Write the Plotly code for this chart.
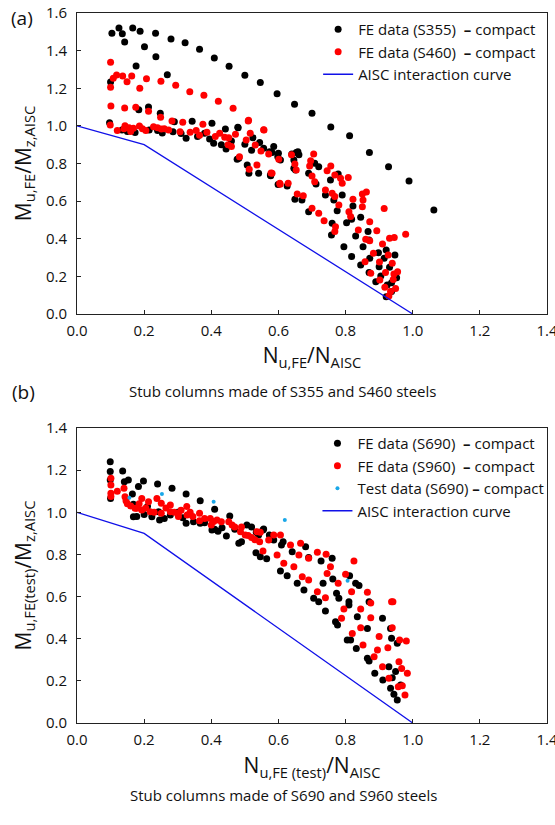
import plotly.graph_objects as go

# ---------------- (a) S355 / S460 stub columns ----------------
n_s355 = [0.104, 0.125, 0.135, 0.142, 0.166, 0.188, 0.201, 0.234, 0.235, 0.280, 0.322, 0.365,
          0.409, 0.453, 0.500, 0.546, 0.596, 0.648, 0.700, 0.756, 0.812, 0.871, 0.928, 0.989, 1.063,
          0.176, 0.269, 0.100, 0.213, 0.184, 0.248, 0.480,
          0.097, 0.134, 0.163, 0.173, 0.215, 0.254, 0.290, 0.286, 0.325, 0.343, 0.359, 0.380,
          0.402, 0.407, 0.444, 0.479, 0.500, 0.524, 0.544, 0.556, 0.482, 0.574, 0.442, 0.477,
          0.507, 0.512, 0.577, 0.599, 0.541, 0.586, 0.598, 0.606, 0.646, 0.658, 0.651,
          0.576, 0.626, 0.649, 0.670, 0.690, 0.653, 0.646, 0.708, 0.720, 0.712, 0.740, 0.755,
          0.765, 0.775, 0.778, 0.790, 0.760, 0.758, 0.795, 0.803, 0.818, 0.822, 0.845, 0.830,
          0.818, 0.852, 0.867, 0.870, 0.872, 0.845, 0.870, 0.898, 0.915, 0.921, 0.900, 0.890,
          0.905, 0.931, 0.947, 0.952, 0.937, 0.921, 0.937, 0.924, 0.581, 0.600, 0.640, 0.661,
          0.690, 0.395, 0.430, 0.460, 0.520, 0.150, 0.240, 0.310]
m_s355 = [1.492, 1.520, 1.490, 1.446, 1.520, 1.503, 1.420, 1.492, 1.368, 1.462, 1.442, 1.407,
          1.361, 1.317, 1.269, 1.230, 1.171, 1.115, 1.067, 0.994, 0.948, 0.858, 0.783, 0.707, 0.553,
          1.318, 1.272, 1.233, 1.100, 1.086, 1.067, 0.990,
          1.017, 0.978, 0.978, 0.965, 0.978, 0.962, 1.022, 0.969, 0.934, 1.024, 0.943, 0.961,
          1.014, 0.907, 0.877, 0.993, 0.902, 0.937, 0.911, 0.881, 0.828, 0.863, 0.984, 0.822,
          0.792, 0.748, 0.735, 0.689, 0.748, 0.890, 0.836, 0.819, 0.819, 0.863, 0.766,
          0.739, 0.680, 0.610, 0.606, 0.544, 0.858, 0.775, 0.801, 0.783, 0.691, 0.633, 0.712,
          0.606, 0.549, 0.744, 0.633, 0.482, 0.420, 0.358, 0.485, 0.503, 0.574, 0.514, 0.415,
          0.305, 0.358, 0.438, 0.393, 0.296, 0.260, 0.220, 0.326, 0.296, 0.340, 0.251, 0.172,
          0.202, 0.248, 0.314, 0.193, 0.166, 0.092, 0.119, 0.154, 0.858, 0.855, 0.851, 0.847,
          0.748, 0.930, 0.900, 0.920, 0.870, 0.970, 0.975, 0.960]

n_s460 = [0.100, 0.100, 0.108, 0.118, 0.136, 0.149, 0.163, 0.187, 0.207, 0.250, 0.294, 0.336,
          0.378, 0.421, 0.465, 0.511, 0.556,
          0.101, 0.142, 0.175, 0.213, 0.249,
          0.099, 0.143, 0.168, 0.186, 0.228, 0.251, 0.273, 0.283, 0.315, 0.307, 0.337, 0.375,
          0.387, 0.412, 0.425, 0.452, 0.472, 0.510, 0.516, 0.504, 0.531, 0.557, 0.548, 0.484,
          0.513, 0.578, 0.536, 0.605,
          0.120, 0.155, 0.195, 0.140, 0.160, 0.205, 0.240, 0.260, 0.355, 0.365, 0.440, 0.450, 0.460,
          0.705, 0.649, 0.653, 0.696, 0.700, 0.708, 0.745, 0.756, 0.768, 0.785, 0.808, 0.790,
          0.740, 0.760, 0.768, 0.780, 0.810, 0.822, 0.850, 0.862, 0.852, 0.850, 0.815, 0.872,
          0.838, 0.860, 0.872, 0.893, 0.915, 0.910, 0.931, 0.945, 0.979, 0.927, 0.883, 0.858,
          0.901, 0.939, 0.875, 0.919, 0.944, 0.955, 0.902, 0.942, 0.917, 0.949, 0.934, 0.929,
          0.736, 0.770, 0.768, 0.700, 0.720, 0.674, 0.656, 0.629, 0.604, 0.581, 0.601, 0.571,
          0.639, 0.693]
m_s460 = [1.338, 1.205, 1.253, 1.270, 1.265, 1.235, 1.265, 1.200, 1.250, 1.237, 1.216, 1.182,
          1.163, 1.131, 1.094, 1.030, 0.980,
          1.106, 1.095, 1.099, 1.078, 1.046,
          1.005, 1.001, 0.987, 1.000, 0.996, 0.984, 0.978, 1.026, 1.019, 0.969, 0.966, 1.008,
          0.966, 0.943, 0.961, 0.937, 0.955, 1.026, 0.961, 0.925, 0.898, 0.978, 0.867, 0.836,
          0.770, 0.750, 0.792, 0.690,
          0.975, 0.990, 0.985, 0.985, 0.970, 0.975, 0.990, 0.985, 0.975, 0.950, 0.940, 0.900, 0.890,
          0.851, 0.797, 0.766, 0.815, 0.734, 0.703, 0.762, 0.787, 0.739, 0.721, 0.725, 0.695,
          0.659, 0.642, 0.624, 0.579, 0.544, 0.610, 0.638, 0.649, 0.606, 0.570, 0.518, 0.491,
          0.447, 0.397, 0.390, 0.443, 0.561, 0.372, 0.402, 0.406, 0.424, 0.314, 0.323, 0.278,
          0.276, 0.270, 0.216, 0.220, 0.213, 0.225, 0.181, 0.184, 0.142, 0.136, 0.119, 0.096,
          0.496, 0.464, 0.438, 0.562, 0.535, 0.629, 0.638, 0.695, 0.695, 0.748, 0.822, 0.851,
          0.846, 0.787]

# ---------------- (b) S690 / S960 stub columns ----------------
n_s690 = [0.099, 0.099, 0.136, 0.099, 0.100, 0.141, 0.153, 0.198, 0.183, 0.240, 0.283, 0.325,
          0.367, 0.410, 0.165, 0.168, 0.168, 0.178, 0.210, 0.223, 0.246, 0.243, 0.278, 0.315,
          0.325, 0.347, 0.367, 0.402, 0.432, 0.445, 0.455, 0.482, 0.506, 0.534, 0.533, 0.546,
          0.554, 0.556, 0.541, 0.573, 0.586, 0.609, 0.614, 0.641, 0.606, 0.626, 0.681, 0.690,
          0.727, 0.656, 0.676, 0.705, 0.720, 0.740, 0.733, 0.762, 0.760, 0.773, 0.780, 0.770,
          0.776, 0.812, 0.830, 0.840, 0.810, 0.810, 0.870, 0.835, 0.865, 0.805, 0.815, 0.832,
          0.910, 0.934, 0.937, 0.954, 0.865, 0.870, 0.887, 0.911, 0.929, 0.949, 0.934, 0.944,
          0.954, 0.939, 0.964, 0.200, 0.260, 0.300, 0.380, 0.410, 0.420, 0.470, 0.490, 0.520,
          0.565]
m_s690 = [1.240, 1.193, 1.196, 1.153, 1.066, 1.145, 1.153, 1.149, 1.122, 1.134, 1.114, 1.087,
          1.055, 1.014, 1.087, 1.038, 0.979, 0.980, 1.027, 0.979, 0.963, 1.003, 0.987, 0.974,
          0.948, 0.955, 0.948, 0.916, 0.927, 0.888, 0.982, 0.853, 0.940, 0.905, 0.808, 0.789,
          0.916, 0.921, 0.892, 0.892, 0.869, 0.845, 0.860, 0.813, 0.721, 0.699, 0.837, 0.785,
          0.769, 0.663, 0.631, 0.592, 0.576, 0.532, 0.663, 0.683, 0.782, 0.616, 0.592, 0.481,
          0.465, 0.699, 0.663, 0.652, 0.576, 0.560, 0.576, 0.504, 0.449, 0.394, 0.394, 0.354,
          0.497, 0.449, 0.402, 0.378, 0.307, 0.294, 0.236, 0.204, 0.267, 0.244, 0.165, 0.136,
          0.109, 0.215, 0.180, 0.990, 0.970, 1.000, 0.950, 0.920, 0.910, 0.920, 0.860, 0.930,
          0.780]

n_s960 = [0.101, 0.101, 0.101, 0.101, 0.140, 0.143, 0.146, 0.173, 0.178, 0.193, 0.193, 0.213,
          0.218, 0.238, 0.251, 0.251, 0.278, 0.278, 0.302, 0.302, 0.327, 0.328, 0.337, 0.365,
          0.365, 0.397, 0.407, 0.417, 0.452, 0.462, 0.487, 0.501, 0.536, 0.544, 0.554,
          0.546, 0.571, 0.586, 0.606, 0.596, 0.616, 0.646, 0.636, 0.666, 0.661, 0.690, 0.716,
          0.742, 0.755, 0.671, 0.690, 0.716, 0.740, 0.745, 0.778, 0.825, 0.800, 0.818, 0.865,
          0.795, 0.788, 0.845, 0.875, 0.875, 0.845, 0.820, 0.852, 0.900, 0.926, 0.939, 0.937,
          0.941, 0.885, 0.895, 0.910, 0.961, 0.981, 0.959, 0.967, 0.984, 0.929, 0.957, 0.969,
          0.977, 0.120, 0.150, 0.160, 0.185, 0.205, 0.230, 0.265, 0.290, 0.310, 0.345, 0.380,
          0.400, 0.430, 0.470, 0.490, 0.510, 0.520, 0.530]
m_s960 = [1.161, 1.130, 1.090, 1.075, 1.114, 1.074, 1.055, 1.019, 1.019, 1.066, 1.011, 1.050,
          1.003, 1.066, 1.043, 0.995, 1.035, 1.003, 0.995, 0.980, 1.027, 0.987, 1.000, 0.995,
          0.960, 0.971, 0.956, 0.963, 0.955, 0.940, 0.908, 0.892, 0.908, 0.860, 0.816,
          0.905, 0.869, 0.892, 0.892, 0.797, 0.758, 0.742, 0.845, 0.853, 0.797, 0.782, 0.810,
          0.801, 0.742, 0.694, 0.679, 0.623, 0.595, 0.710, 0.663, 0.769, 0.706, 0.623, 0.620,
          0.541, 0.497, 0.541, 0.500, 0.570, 0.452, 0.425, 0.370, 0.410, 0.357, 0.452, 0.576,
          0.576, 0.315, 0.346, 0.267, 0.394, 0.389, 0.291, 0.259, 0.236, 0.212, 0.172, 0.177,
          0.133, 1.100, 1.040, 1.030, 1.040, 1.020, 1.000, 1.020, 1.000, 1.010, 0.980, 0.970,
          0.940, 0.955, 0.930, 0.930, 0.890, 0.880, 0.870]

n_test = [0.156, 0.253, 0.407, 0.619, 0.806]
m_test = [1.069, 1.087, 1.050, 0.963, 0.675]

# AISC H1-1 interaction curve
n_aisc = [0.0, 0.2, 1.0]
m_aisc = [1.0, 0.9, 0.0]

# Tick values
x_ticks = [0.0, 0.2, 0.4, 0.6, 0.8, 1.0, 1.2, 1.4]
y_ticks_a = [0.0, 0.2, 0.4, 0.6, 0.8, 1.0, 1.2, 1.4, 1.6]
y_ticks_b = [0.0, 0.2, 0.4, 0.6, 0.8, 1.0, 1.2, 1.4]

FONT = "Open Sans"
BLACK = "#000000"
RED = "#ff0000"
CYAN = "#1aa7e8"
BLUE = "#1010e8"
DASH = "<b>\u2013</b>"

fig = go.Figure()

fig.add_trace(go.Scatter(x=n_s355, y=m_s355, mode="markers", name=f"FE data (S355)  {DASH} compact",
                         marker=dict(color=BLACK, size=7), xaxis="x", yaxis="y", legend="legend"))
fig.add_trace(go.Scatter(x=n_s460, y=m_s460, mode="markers", name=f"FE data (S460)  {DASH} compact",
                         marker=dict(color=RED, size=7), xaxis="x", yaxis="y", legend="legend"))
fig.add_trace(go.Scatter(x=n_aisc, y=m_aisc, mode="lines", name="AISC interaction curve",
                         line=dict(color=BLUE, width=1.3), xaxis="x", yaxis="y", legend="legend"))

fig.add_trace(go.Scatter(x=n_s690, y=m_s690, mode="markers", name=f"FE data (S690)  {DASH} compact",
                         marker=dict(color=BLACK, size=7), xaxis="x2", yaxis="y2", legend="legend2"))
fig.add_trace(go.Scatter(x=n_s960, y=m_s960, mode="markers", name=f"FE data (S960)  {DASH} compact",
                         marker=dict(color=RED, size=7), xaxis="x2", yaxis="y2", legend="legend2"))
fig.add_trace(go.Scatter(x=n_test, y=m_test, mode="markers", name=f"Test data (S690) {DASH} compact",
                         marker=dict(color=CYAN, size=4), xaxis="x2", yaxis="y2", legend="legend2"))
fig.add_trace(go.Scatter(x=n_aisc, y=m_aisc, mode="lines", name="AISC interaction curve",
                         line=dict(color=BLUE, width=1.3), xaxis="x2", yaxis="y2", legend="legend2"))

axis_common = dict(showline=True, linecolor="#222222", linewidth=1, mirror=True, ticks="inside",
                   ticklen=4, tickcolor="#222222", showgrid=False, zeroline=False,
                   ticklabeloverflow="allow", automargin=False,
                   tickfont=dict(family=FONT, size=15, color="#111111"))

xd = [77 / 555, 547 / 555]
fig.update_layout(
    width=555, height=825, margin=dict(l=0, r=0, t=0, b=0),
    paper_bgcolor="white", plot_bgcolor="white",
    font=dict(family=FONT, color="#111111"),
    xaxis=dict(domain=xd, range=[0, 1.4], tickvals=x_ticks, tickformat=".1f", anchor="y",
               ticklabelstandoff=3,
               title=dict(text="N<sub>u,FE</sub>/N<sub>AISC</sub>", font=dict(size=21), standoff=9),
               **axis_common),
    yaxis=dict(domain=[(825 - 314) / 825, (825 - 13) / 825], range=[0, 1.6], tickvals=y_ticks_a,
               tickformat=".1f", anchor="x", ticklabelstandoff=6,
               title=dict(text="M<sub>u,FE</sub>/M<sub>z,AISC</sub>", font=dict(size=21), standoff=8),
               **axis_common),
    xaxis2=dict(domain=xd, range=[0, 1.4], tickvals=x_ticks, tickformat=".1f", anchor="y2",
                ticklabelstandoff=3,
                title=dict(text="N<sub>u,FE (test)</sub>/N<sub>AISC</sub>", font=dict(size=21), standoff=10),
                **axis_common),
    yaxis2=dict(domain=[(825 - 723) / 825, (825 - 428) / 825], range=[0, 1.4], tickvals=y_ticks_b,
                tickformat=".1f", anchor="x2", ticklabelstandoff=6,
                title=dict(text="M<sub>u,FE(test)</sub>/M<sub>z,AISC</sub>", font=dict(size=21), standoff=8),
                **axis_common),
    legend=dict(x=0.975, xanchor="right", y=(825 - 13) / 825, yanchor="top",
                bgcolor="rgba(0,0,0,0)", font=dict(family=FONT, size=15, color="#111111"),
                itemwidth=30, tracegroupgap=0),
    legend2=dict(x=0.99, xanchor="right", y=(825 - 427) / 825, yanchor="top",
                 bgcolor="rgba(0,0,0,0)", font=dict(family=FONT, size=15, color="#111111"),
                 itemwidth=30, tracegroupgap=0),
    showlegend=True,
)

annotations = [
    dict(text="(a)", x=22 / 555, y=(825 - 18) / 825, font=dict(size=19)),
    dict(text="(b)", x=23 / 555, y=(825 - 392) / 825, font=dict(size=19)),
    dict(text="Stub columns made of S355 and S460 steels", x=282 / 555, y=(825 - 391) / 825,
         font=dict(size=15)),
    dict(text="Stub columns made of S690 and S960 steels", x=283 / 555, y=(825 - 795) / 825,
         font=dict(size=15)),
]
for a in annotations:
    fig.add_annotation(xref="paper", yref="paper", showarrow=False, xanchor="center",
                       yanchor="middle", **a)

fig.write_html("out.html")
